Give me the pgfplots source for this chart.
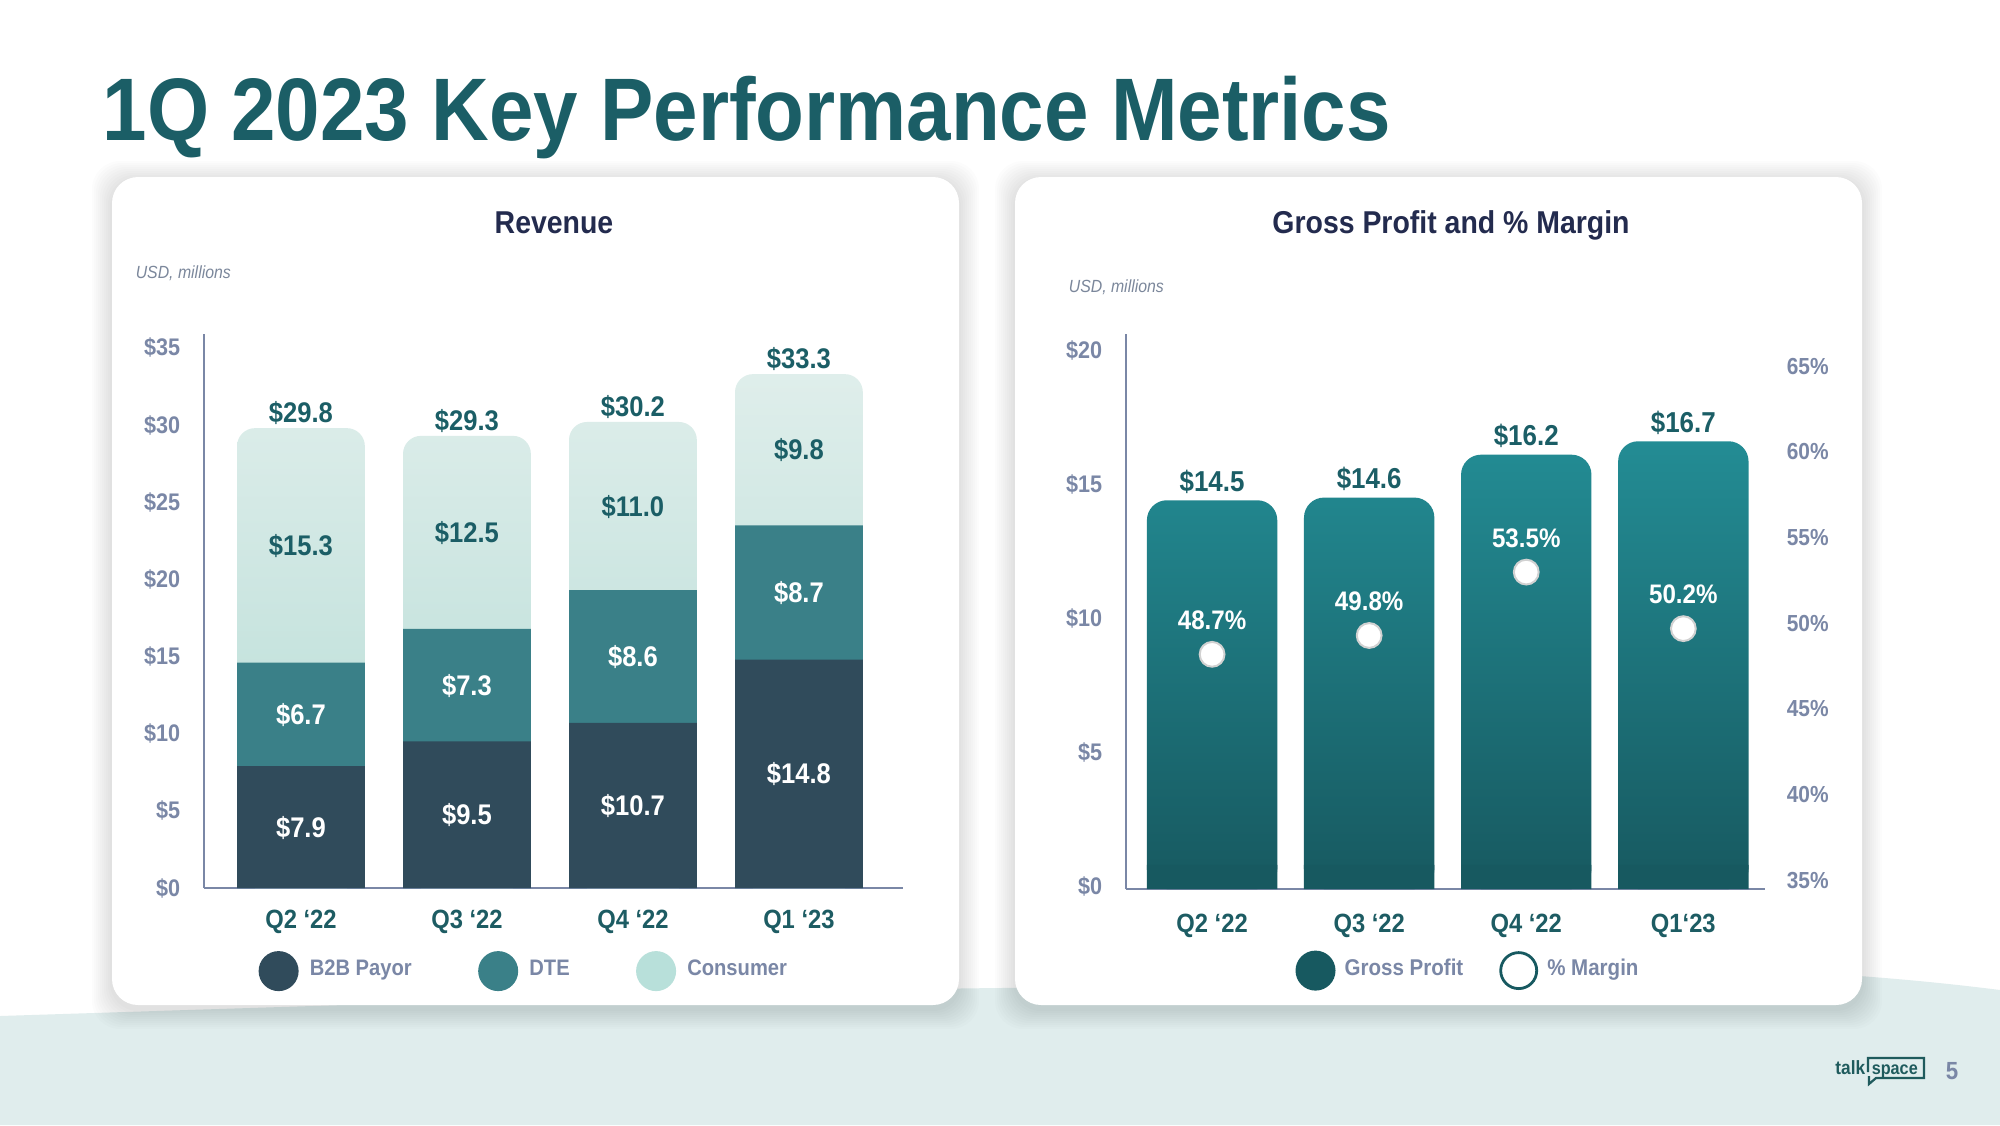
\documentclass[border=0pt]{standalone}
\usepackage{fontspec}
\setmainfont{Liberation Sans}[FakeStretch=0.9]
\usepackage{pgfplots}
\pgfplotsset{compat=1.18}
\usepackage{pgfplotstable}

\definecolor{titlecol}{HTML}{1B5E66}
\definecolor{navy}{HTML}{232B4E}
\definecolor{tickcol}{HTML}{7A87A6}
\definecolor{xlabcol}{HTML}{1D5C63}
\definecolor{b2bcol}{HTML}{304B5B}
\definecolor{dtecol}{HTML}{3A8088}
\definecolor{contop}{HTML}{DFEEEB}
\definecolor{conbot}{HTML}{B3DBD4}
\definecolor{conleg}{HTML}{B8E0DA}
\definecolor{gptop}{HTML}{238C94}
\definecolor{gpbot}{HTML}{175960}
\definecolor{bgcol}{HTML}{E0EDED}
\definecolor{usdcol}{HTML}{7B879B}
\definecolor{logocol}{HTML}{1F5B5D}

\pgfplotstableread{
x b2b dte con tot
0 7.9 6.7 15.3 29.8
1 9.5 7.3 12.5 29.3
2 10.7 8.6 11.0 30.2
3 14.8 8.7 9.8 33.3
}\revtab
\pgfplotstableread{
x gp margin base
0 14.5 48.7 0.9
1 14.6 49.8 0.9
2 16.2 53.5 0.9
3 16.7 50.2 0.9
}\gptab

\pgfplotsset{/pgf/number format/assume math mode=true}
\newcommand{\fs}[1]{\fontsize{#1}{#1}\selectfont}
\newcommand{\money}{\$\pgfmathprintnumber[fixed,fixed zerofill,precision=1]{\pgfplotspointmeta}}

\begin{document}
\begin{tikzpicture}
\useasboundingbox (0,0) rectangle (500pt,-281.25pt);
\begin{scope}[x=0.25pt,y=-0.25pt]
\fill[white] (0,0) rectangle (2000,1125);
\fill[bgcol] (0,1016) .. controls (500,1000) and (800,990) .. (1000,988) .. controls (1300,985) and (1650,965) .. (1800,972) .. controls (1900,978) and (1960,985) .. (2000,990) -- (2000,1125) -- (0,1125) -- cycle;
\foreach \ca/\cb in {112/959, 1015/1862}{
  \foreach \s in {1,...,10}{
    \fill[black,opacity=0.01,rounded corners=7pt] (\ca-2*\s,177-2*\s+4) rectangle (\cb+2*\s,1005+2*\s+4);
  }
  \fill[white,rounded corners=6.5pt] (\ca,177) rectangle (\cb,1005);
}
\node[anchor=base west,inner sep=0pt,text=titlecol,font=\bfseries\fs{22.2}] at (102,140) {1Q 2023 Key Performance Metrics};
\node[inner sep=0pt,text=navy,font=\bfseries\fs{7.9}] at (554,223) {Revenue};
\node[inner sep=0pt,text=navy,font=\bfseries\fs{7.9}] at (1451,225) {Gross Profit and \% Margin};
\node[anchor=west,inner sep=0pt,text=usdcol,font=\itshape\fs{4.4}] at (135,273) {USD, millions};
\node[anchor=west,inner sep=0pt,text=usdcol,font=\itshape\fs{4.4}] at (1068,287) {USD, millions};
\node[anchor=base east,inner sep=0pt,text=logocol,font=\bfseries\fs{4.8}] at (1866,1074) {talk};
\node[anchor=base west,inner sep=0pt,text=logocol,font=\bfseries\fs{4.5}] at (1871,1074) {space};
\draw[logocol,line width=0.55pt] (1868,1072) -- (1868,1058) -- (1924,1058) -- (1924,1078) -- (1876,1078) -- (1869,1084) -- (1869,1076);
\node[inner sep=0pt,text=tickcol,font=\bfseries\fs{6.2}] at (1952,1071) {5};
\end{scope}

% ---------------- Revenue ----------------
\begin{axis}[
  at={(51pt,-222pt)}, anchor=south west, scale only axis,
  width=174.75pt, height=138.5pt,
  xmin=-0.584, xmax=3.627, ymin=0, ymax=35.9,
  axis lines=left, axis line style={-, draw=tickcol, line width=0.6pt},
  major tick length=0pt,
  xtick={0,1,2,3}, xticklabels={Q2 ‘22, Q3 ‘22, Q4 ‘22, Q1 ‘23},
  ytick={0,5,...,35}, yticklabels={\$0,\$5,\$10,\$15,\$20,\$25,\$30,\$35},
  yticklabel style={anchor=east, inner sep=0pt, xshift=-5.75pt, text=tickcol, font=\bfseries\fs{6}},
  xticklabel style={anchor=north, inner sep=0pt, yshift=-5.25pt, text=xlabcol, font=\bfseries\fs{6.6}},
  bar width=0.77,
  legend style={draw=none, fill=none, inner xsep=0pt, inner ysep=0pt, legend columns=-1,
    at={(0.077,-0.15)}, anchor=west, font=\bfseries\fs{5.6}, text=tickcol,
    nodes={inner sep=2pt},
    /tikz/every odd column/.append style={column sep=0.8pt},
    /tikz/every even column/.append style={column sep=14.6pt}},
]
\addlegendimage{legend image code/.code={\fill[b2bcol] (0pt,0pt) circle (4.8pt);}}
\addlegendentry{B2B Payor}
\addlegendimage{legend image code/.code={\fill[dtecol] (0pt,0pt) circle (4.8pt);}}
\addlegendentry{DTE}
\addlegendimage{legend image code/.code={\fill[conleg] (0pt,0pt) circle (4.8pt);}}
\addlegendentry{Consumer}

\addplot[ybar, bar shift=0pt, draw=none, top color=contop, bottom color=conbot, rounded corners=4.5pt, forget plot]
  table[x=x, y=tot] {\revtab};
\addplot[ybar, bar shift=0pt, draw=none, fill=dtecol, forget plot]
  table[x=x, y expr=\thisrow{b2b}+\thisrow{dte}] {\revtab};
\addplot[ybar, bar shift=0pt, draw=none, fill=b2bcol, forget plot]
  table[x=x, y=b2b] {\revtab};

% labels
\addplot[draw=none, mark=none, forget plot, point meta=explicit, nodes near coords={\money},
  nodes near coords style={anchor=base, yshift=1.3pt, inner sep=0pt, text=titlecol, font=\bfseries\fs{7.1}}]
  table[x=x, y=tot, meta=tot] {\revtab};
\addplot[draw=none, mark=none, forget plot, point meta=explicit, nodes near coords={\money},
  nodes near coords style={anchor=base, yshift=-2.5pt, inner sep=0pt, text=titlecol, font=\bfseries\fs{7.1}}]
  table[x=x, y expr=(\thisrow{b2b}+\thisrow{dte}+\thisrow{tot})/2, meta=con] {\revtab};
\addplot[draw=none, mark=none, forget plot, point meta=explicit, nodes near coords={\money},
  nodes near coords style={anchor=base, yshift=-2.5pt, inner sep=0pt, text=white, font=\bfseries\fs{7.1}}]
  table[x=x, y expr=\thisrow{b2b}+\thisrow{dte}/2, meta=dte] {\revtab};
\addplot[draw=none, mark=none, forget plot, point meta=explicit, nodes near coords={\money},
  nodes near coords style={anchor=base, yshift=-2.5pt, inner sep=0pt, text=white, font=\bfseries\fs{7.1}}]
  table[x=x, y expr=\thisrow{b2b}/2, meta=b2b] {\revtab};
\end{axis}

% ---------------- Gross profit ----------------
\begin{axis}[
  at={(281.5pt,-222.25pt)}, anchor=south west, scale only axis,
  width=159.75pt, height=138.75pt,
  xmin=-0.548, xmax=3.52, ymin=0, ymax=20.7,
  axis lines=left, axis line style={-, draw=tickcol, line width=0.6pt},
  major tick length=0pt,
  xtick={0,1,2,3}, xticklabels={Q2 ‘22, Q3 ‘22, Q4 ‘22, Q1‘23},
  ytick={0,5,...,20}, yticklabels={\$0,\$5,\$10,\$15,\$20},
  yticklabel style={anchor=east, inner sep=0pt, xshift=-5.75pt, yshift=0.6pt, text=tickcol, font=\bfseries\fs{6}},
  xticklabel style={anchor=north, inner sep=0pt, yshift=-6pt, text=xlabcol, font=\bfseries\fs{6.6}},
  bar width=0.83,
  legend style={draw=none, fill=none, inner xsep=0pt, inner ysep=0pt, legend columns=-1,
    at={(0.264,-0.147)}, anchor=west, font=\bfseries\fs{5.7}, text=tickcol,
    nodes={inner sep=2pt},
    /tikz/every odd column/.append style={column sep=0.3pt},
    /tikz/every even column/.append style={column sep=7pt}},
]
\addlegendimage{legend image code/.code={\fill[gpbot] (0pt,0pt) circle (4.8pt);}}
\addlegendentry{Gross Profit}
\addlegendimage{legend image code/.code={\draw[gpbot, fill=white, line width=0.7pt] (0pt,0pt) circle (4.5pt);}}
\addlegendentry{\% Margin}

\addplot[ybar, bar shift=0pt, draw=none, top color=gptop, bottom color=gpbot, rounded corners=5pt, forget plot]
  table[x=x, y=gp] {\gptab};
\addplot[ybar, bar shift=0pt, draw=none, fill=gpbot, forget plot]
  table[x=x, y=base] {\gptab};
\addplot[draw=none, mark=none, forget plot, point meta=explicit, nodes near coords={\money},
  nodes near coords style={anchor=base, yshift=2.2pt, inner sep=0pt, text=titlecol, font=\bfseries\fs{7.2}}]
  table[x=x, y=gp, meta=gp] {\gptab};
\end{axis}

\begin{axis}[
  at={(281.5pt,-222.25pt)}, anchor=south west, scale only axis,
  width=159.75pt, height=138.75pt,
  xmin=-0.548, xmax=3.52, ymin=35, ymax=67.4,
  axis x line=none, axis y line*=right, y axis line style={draw=none},
  major tick length=0pt, xtick=\empty,
  ytick={35,40,...,65}, yticklabels={35\%,40\%,45\%,50\%,55\%,60\%,65\%},
  yticklabel style={anchor=west, inner sep=0pt, xshift=5.25pt, yshift=2.2pt, text=tickcol, font=\bfseries\fs{5.8}},
]
\addplot[only marks, mark=*, mark size=3.1pt, mark options={fill=white, draw=black!18, line width=0.5pt},
  point meta=explicit,
  nodes near coords={\pgfmathprintnumber[fixed,fixed zerofill,precision=1]{\pgfplotspointmeta}\%},
  nodes near coords style={anchor=base, yshift=6.2pt, inner sep=0pt, text=white, font=\bfseries\fs{6.7}}]
  table[x=x, y=margin, meta=margin] {\gptab};
\end{axis}
\end{tikzpicture}
\end{document}
